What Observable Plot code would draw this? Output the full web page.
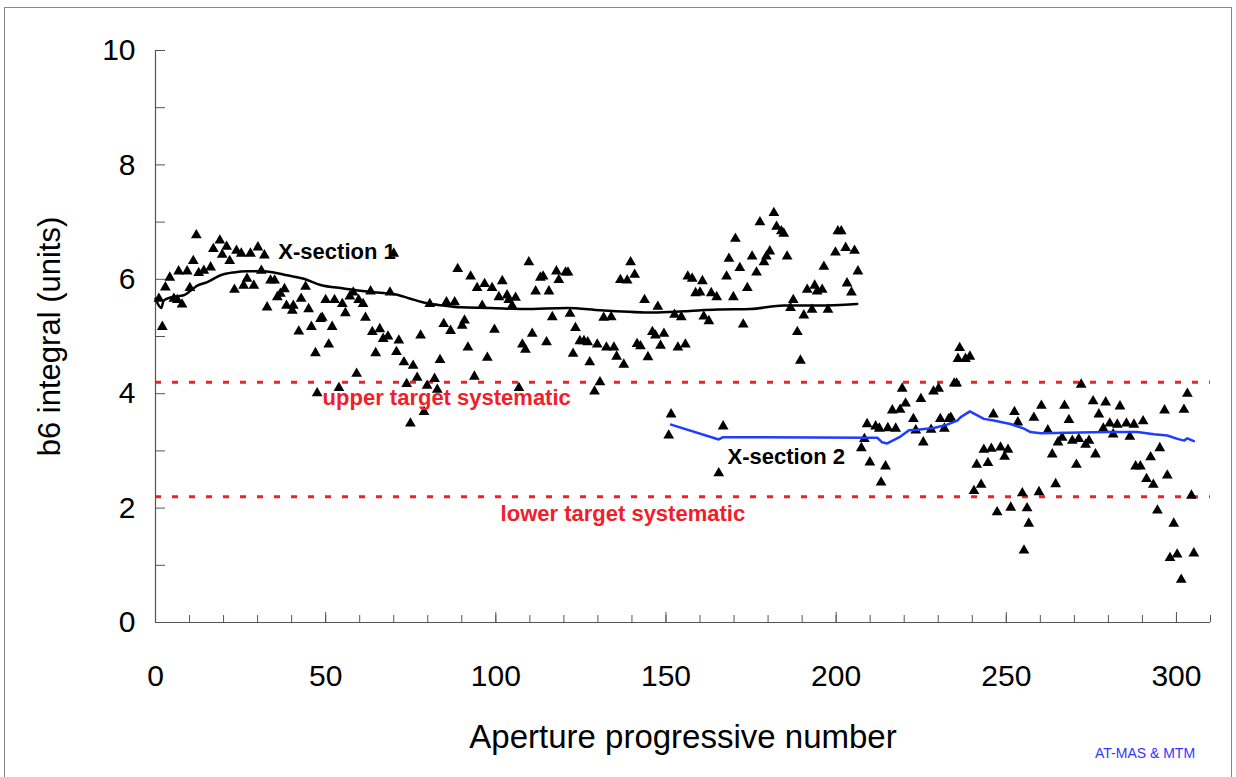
<!DOCTYPE html>
<html><head><meta charset="utf-8">
<script src="https://cdn.jsdelivr.net/npm/d3@7"></script>
<script src="https://cdn.jsdelivr.net/npm/@observablehq/plot@0.6"></script>
<style>
body{margin:0;background:#fff;}
#wrap{position:relative;width:1236px;height:777px;overflow:hidden;background:#fff;}
#frame{position:absolute;left:4px;top:7px;width:1226px;height:820px;border:1px solid #8a8a8a;}
#chart{position:absolute;left:0;top:0;}
#credit{position:absolute;left:1095px;top:745px;font:14px "Liberation Sans",Arial,sans-serif;color:#3434ff;}
</style></head>
<body>
<div id="wrap"><div id="frame"></div><div id="chart"></div><div id="credit">AT-MAS &amp; MTM</div></div>
<script>
// Measured points, X-section 1: [aperture, b6]
const section1Points = [
[1.0,5.66],[2.0,5.17],[2.9,5.86],[4.2,6.03],[5.4,5.66],[6.4,5.64],[7.8,5.56],[6.8,6.14],[9.3,6.14],[10.1,5.85],[11.1,6.32],[12.0,6.77],[12.7,6.11],[14.2,6.15],[16.2,6.21],[17.0,6.53],[18.9,6.68],[19.6,6.43],[20.9,6.57],[21.8,6.32],[23.8,6.50],[25.2,6.45],[27.9,6.45],[30.1,6.56],[32.0,6.42],[31.1,6.15],[26.9,6.01],[25.9,5.89],[28.9,5.89],[23.2,5.82],[33.8,5.98],[35.0,5.98],[37.9,5.83],[36.7,5.75],[35.8,5.69],[32.8,5.51],[38.5,5.54],[40.5,5.54],[40.2,5.45],[44.1,5.87],[42.8,5.66],[45.0,5.48],[42.1,5.09],[45.8,5.17],[47.0,4.71],[47.5,4.01],[48.5,5.31],
[50.0,5.64],[52.6,5.64],[54.9,5.57],[55.8,5.41],[49.0,5.33],[51.9,5.17],[50.9,4.86],[57.1,5.70],[58.1,5.77],[59.7,5.64],[61.0,5.57],[61.7,5.33],[63.2,5.79],[68.9,5.77],[70.0,6.45],[63.7,5.08],[65.9,5.13],[66.9,4.96],[68.3,5.00],[64.7,4.71],[71.5,4.93],[70.8,4.73],[73.0,4.55],[75.7,4.49],[76.9,4.28],[73.8,4.17],[74.9,3.48],[78.9,3.68],[79.8,4.14],[82.0,4.26],[82.8,4.07],[83.6,4.59],[77.9,5.02],[59.1,4.35],[53.9,4.10],[80.6,5.57],[85.5,5.60],[87.9,5.60],[84.7,5.22],[86.7,5.10],[90.1,5.19],[90.8,5.28],[91.8,4.81],[88.8,6.18],[92.6,6.05],[94.5,5.85],[96.7,5.92],[96.0,5.54],[93.7,4.30],[97.5,4.63],
[98.9,5.85],[101.9,5.97],[100.9,5.69],[103.3,5.72],[103.8,5.64],[105.8,5.68],[104.8,5.54],[99.6,5.12],[109.7,6.30],[113.1,6.03],[113.9,6.05],[111.7,5.79],[115.6,5.79],[117.8,6.14],[120.5,6.12],[121.2,6.12],[118.5,5.99],[110.7,5.05],[107.8,4.86],[108.7,4.77],[114.9,4.90],[116.6,5.34],[121.8,5.40],[123.4,5.15],[124.7,4.92],[125.9,4.92],[127.0,4.90],[122.7,4.70],[129.8,4.86],[132.5,4.81],[134.7,4.81],[127.6,4.55],[135.5,4.65],[137.6,4.51],[131.7,5.33],[133.9,5.34],[130.6,4.20],[129.0,4.04],[106.8,4.10],[136.6,5.99],[138.6,5.98],[140.8,6.08],[139.6,6.30],[143.7,5.64],[141.5,4.87],[142.5,4.83],[144.7,4.64],[146.0,5.08],[146.9,5.02],[147.6,5.52],[148.4,4.84],
[149.4,5.05],[153.5,4.81],[155.7,4.86],[152.5,5.38],[154.5,5.34],[161.1,5.35],[162.6,5.27],[156.4,6.05],[157.7,6.01],[160.7,5.97],[158.7,5.76],[160.0,5.77],[163.3,5.76],[164.9,5.69],[169.8,5.69],[172.7,5.21],[167.8,6.05],[168.5,6.36],[170.4,6.71],[171.7,6.20],[173.9,5.85],[175.3,6.40],[176.6,6.12],[177.6,7.00],[178.8,6.30],[179.5,6.40],[180.5,6.49],[181.7,7.16],[182.5,6.92],[183.9,6.84],[184.6,6.80],[185.6,6.40],[187.4,5.64],[186.6,5.50],[190.5,5.37],[188.6,5.08],[189.5,4.58],[191.5,5.82],[193.7,5.89],[194.4,5.79],[195.9,5.82],[192.9,5.47],[197.6,5.47],[196.4,6.22],[199.8,6.47],[200.5,6.84],[201.5,6.84],[202.8,6.55],[205.4,6.50],[206.4,6.14],[203.2,5.93],[204.5,5.77]
];
// Measured points, X-section 2
const section2Points = [
[151.5,3.64],[150.8,3.27],[166.8,3.43],[165.5,2.61],[209.1,3.47],[208.3,3.21],[207.4,3.05],[209.9,2.80],
[211.6,3.43],[212.7,3.39],[215.2,3.40],[217.5,3.39],[214.5,2.73],[213.2,2.45],[216.5,3.71],[218.8,3.72],[220.4,3.83],[219.4,4.09],[222.7,3.56],[223.4,3.36],[224.9,3.91],[225.6,3.15],[227.9,3.37],[228.6,4.04],[230.1,4.09],[230.6,3.56],[231.8,3.39],[233.1,3.56],[233.7,3.58],[234.7,4.18],[235.4,4.18],[236.3,4.80],[235.8,4.61],[238.0,4.61],[239.3,4.65],[241.3,2.76],[243.4,3.02],[244.6,2.79],[245.6,3.04],[242.6,2.41],[240.5,2.30],[248.3,3.06],[249.5,2.90],[250.5,3.02],[246.2,3.64],[252.4,3.68],[253.4,3.50],[254.7,2.26],[251.3,2.01],[247.3,1.93],[256.1,2.00],[256.6,1.73],[255.2,1.26],
[259.6,2.28],[258.1,3.58],[260.3,3.79],[262.2,3.36],[263.5,2.94],[265.2,3.15],[266.4,3.23],[267.1,3.79],[268.4,3.54],[269.4,3.18],[271.3,3.21],[273.3,3.11],[274.3,3.18],[270.6,2.76],[264.5,2.42],[272.0,4.16],[275.5,3.87],[279.2,3.85],[277.2,3.64],[276.2,2.94],[278.5,3.39],[280.4,3.48],[281.4,3.29],[282.6,3.46],[283.4,3.78],[285.3,3.48],[287.5,3.46],[286.3,3.25],[290.2,3.52],[288.0,2.73],[289.4,2.73],[291.2,2.51],[293.2,2.41],[292.4,2.89],[295.1,3.05],[297.3,2.57],[294.4,1.96],[299.2,1.73],[298.1,1.13],[300.2,1.19],[301.4,0.75],[305.1,1.21],[304.4,2.22],[296.5,3.71],[302.2,3.72],[303.2,4.00]
];
// Smoothed trend, X-section 1
const section1Trend = [
[0,5.66],[1.7,5.50],[2.4,5.63],[4.9,5.69],[8.3,5.72],[10.3,5.80],[12.3,5.89],[15.2,5.95],[19.1,6.07],[23.0,6.12],[26.9,6.14],[30.9,6.14],[34.8,6.12],[38.7,6.07],[43.6,6.01],[48.5,5.90],[55.3,5.84],[60.2,5.80],[65.1,5.77],[71.0,5.73],[74.9,5.66],[79.8,5.58],[84.7,5.54],[89.6,5.51],[98.4,5.50],[108.2,5.48],[121.0,5.50],[130.8,5.46],[146.4,5.42],[155.2,5.44],[165.1,5.47],[174.8,5.48],[184.6,5.54],[194.4,5.54],[206.2,5.57]
];
// Smoothed trend, X-section 2
const section2Trend = [
[151.5,3.46],[165.5,3.20],[166.8,3.24],[209.6,3.23],[212.1,3.23],[213.5,3.15],[215.0,3.13],[218.9,3.25],[221.4,3.36],[223.8,3.37],[228.7,3.40],[232.6,3.46],[235.6,3.53],[236.6,3.59],[239.3,3.69],[243.4,3.56],[246.3,3.53],[251.2,3.47],[255.2,3.39],[257.1,3.33],[260.1,3.31],[279.7,3.33],[288.5,3.33],[293.4,3.29],[297.3,3.27],[300.3,3.21],[302.3,3.18],[303.2,3.22],[305.1,3.17]
];
const targetLevels = [4.2, 2.2];
const annotations = [
  {x: 36.1, y: 6.47, text: "X-section 1", color: "#000"},
  {x: 168.1, y: 2.90, text: "X-section 2", color: "#000"},
  {x: 49.1, y: 3.92, text: "upper target systematic", color: "#f0202a"},
  {x: 101.4, y: 1.89, text: "lower target systematic", color: "#f0202a"}
];
const xMajorTicks = [0, 50, 100, 150, 200, 250, 300];
const xMinorTicks = d3.range(0, 311, 10);
const yMajorTicks = [0, 2, 4, 6, 8, 10];
const yMinorTicks = d3.range(0, 11, 1);

const font = "'Liberation Sans', Arial, sans-serif";
const axisColor = "#555";
const chart = Plot.plot({
  width: 1236, height: 777,
  marginLeft: 155, marginRight: 26, marginTop: 50, marginBottom: 155,
  style: {fontFamily: font, background: "transparent", color: "#000"},
  x: {domain: [0, 310]},
  y: {domain: [0, 10]},
  marks: [
    Plot.ruleY(targetLevels, {stroke: "#f0202a", strokeWidth: 3, strokeDasharray: "6,11"}),
    Plot.ruleX([0], {stroke: axisColor, strokeWidth: 1.2}),
    Plot.ruleY([0], {stroke: axisColor, strokeWidth: 1.2}),
    Plot.axisX({ticks: xMinorTicks, tickSize: -7, tickFormat: () => "", label: null, stroke: axisColor}),
    Plot.axisX({ticks: xMajorTicks, tickSize: -10, tickFormat: () => "", label: null, stroke: axisColor}),
    Plot.axisX({ticks: xMajorTicks, tickSize: 0, tickPadding: 42, fontSize: 30, label: null, tickFormat: d => String(d)}),
    Plot.axisY({ticks: yMinorTicks, tickSize: -10, tickFormat: () => "", label: null, stroke: axisColor}),
    Plot.axisY({ticks: yMajorTicks, tickSize: 0, tickPadding: 20, fontSize: 30, label: null, tickFormat: d => String(d)}),
    Plot.text(["Aperture progressive number"], {frameAnchor: "bottom", dy: 125, fontSize: 33, fill: "#000", textAnchor: "middle"}),
    Plot.text(["b6 integral (units)"], {frameAnchor: "left", dx: -105, rotate: -90, fontSize: 31, fill: "#000", textAnchor: "middle"}),
    Plot.dot(section1Points, {x: d => d[0], y: d => d[1], symbol: "triangle", r: 4, fill: "#000"}),
    Plot.dot(section2Points, {x: d => d[0], y: d => d[1], symbol: "triangle", r: 4, fill: "#000"}),
    Plot.line(section1Trend, {x: d => d[0], y: d => d[1], stroke: "#000", strokeWidth: 2.5, curve: "monotone-x"}),
    Plot.line(section2Trend, {x: d => d[0], y: d => d[1], stroke: "#1f3dff", strokeWidth: 2.5}),
    Plot.text(annotations, {x: "x", y: "y", text: "text", fill: "color", textAnchor: "start", fontSize: 22, fontWeight: "bold"})
  ]
});
document.getElementById("chart").appendChild(chart);
</script>
</body></html>
